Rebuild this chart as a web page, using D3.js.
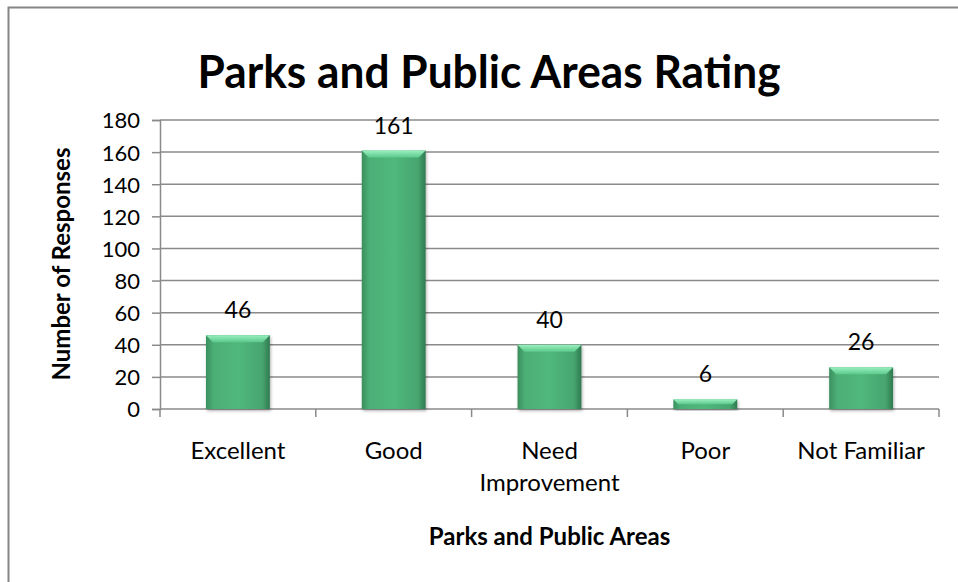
<!DOCTYPE html>
<html>
<head>
<meta charset="utf-8">
<script src="https://cdn.jsdelivr.net/npm/d3@7"></script>
<style>
  body { margin: 0; background: #fff; }
  svg { display: block; font-family: Lato, "Open Sans", sans-serif; }
</style>
</head>
<body>
<div id="chart"></div>
<script>
// chart data
var categories = ["Excellent", "Good", "Need Improvement", "Poor", "Not Familiar"];
var responses = [46, 161, 40, 6, 26];
var yTicks = [0, 20, 40, 60, 80, 100, 120, 140, 160, 180];

var svgWidth = 958;
var svgHeight = 582;

var margin = { top: 120, right: 19, bottom: 173, left: 160 };
var width = svgWidth - margin.left - margin.right;
var height = svgHeight - margin.top - margin.bottom;

var svg = d3.select("#chart")
    .append("svg")
    .attr("width", svgWidth)
    .attr("height", svgHeight);

// gradients for the bevelled bars
var defs = svg.append("defs");
var body = defs.append("linearGradient").attr("id", "barBody")
    .attr("x1", "0").attr("x2", "1").attr("y1", "0").attr("y2", "0");
body.append("stop").attr("offset", "0%").attr("stop-color", "#3a8f5e");
body.append("stop").attr("offset", "12%").attr("stop-color", "#4caf76");
body.append("stop").attr("offset", "50%").attr("stop-color", "#50b87c");
body.append("stop").attr("offset", "88%").attr("stop-color", "#47a56f");
body.append("stop").attr("offset", "100%").attr("stop-color", "#2f7a4f");

var topGrad = defs.append("linearGradient").attr("id", "barTop")
    .attr("x1", "0").attr("x2", "0").attr("y1", "0").attr("y2", "1");
topGrad.append("stop").attr("offset", "0%").attr("stop-color", "#9af0bf");
topGrad.append("stop").attr("offset", "100%").attr("stop-color", "#5cc98c");

var shadow = defs.append("filter").attr("id", "shadow")
    .attr("x", "-20%").attr("y", "-20%").attr("width", "140%").attr("height", "140%");
shadow.append("feDropShadow").attr("dx", 1).attr("dy", 2).attr("stdDeviation", 1.5)
    .attr("flood-color", "#000").attr("flood-opacity", 0.3);

// outer chart frame (right and bottom edges run off the picture)
svg.append("rect")
    .attr("x", 8.5).attr("y", 7.5)
    .attr("width", 1000).attr("height", 700)
    .attr("fill", "none")
    .attr("stroke", "#868686")
    .attr("stroke-width", 2);

var chartGroup = svg.append("g")
    .attr("transform", `translate(${margin.left}, ${margin.top})`);

var xScale = d3.scaleBand()
    .domain(categories)
    .range([0, width])
    .paddingInner(0.59)
    .paddingOuter(0.295);

var yScale = d3.scaleLinear()
    .domain([0, 180])
    .range([height, 0]);

// gridlines
chartGroup.append("g")
    .selectAll("line")
    .data(yTicks.slice(1))
    .enter()
    .append("line")
    .attr("x1", 0)
    .attr("x2", width)
    .attr("y1", d => yScale(d))
    .attr("y2", d => yScale(d))
    .attr("stroke", "#8a8a8a")
    .attr("stroke-width", 1.5);

// y axis
var leftAxis = d3.axisLeft(yScale).tickValues(yTicks).tickSize(8).tickPadding(12);
var yAxis = chartGroup.append("g").call(leftAxis);
yAxis.select(".domain").attr("stroke", "#8a8a8a").attr("stroke-width", 1.5);
yAxis.selectAll(".tick line").attr("stroke", "#8a8a8a").attr("stroke-width", 1.5);
yAxis.selectAll(".tick text")
    .attr("font-size", 22)
    .attr("font-family", "Lato, sans-serif")
    .attr("fill", "#000")
    .attr("dy", "0.36em");

// x axis: ticks sit on the category boundaries
var bottomAxis = chartGroup.append("g")
    .attr("transform", `translate(0, ${height})`);
bottomAxis.append("line")
    .attr("x1", 0).attr("x2", width)
    .attr("stroke", "#8a8a8a").attr("stroke-width", 1.5);
var step = xScale.step();
bottomAxis.selectAll(".xtick")
    .data(d3.range(categories.length + 1))
    .enter()
    .append("line")
    .attr("class", "xtick")
    .attr("x1", d => d * step).attr("x2", d => d * step)
    .attr("y1", 0).attr("y2", 8)
    .attr("stroke", "#8a8a8a").attr("stroke-width", 1.5);

// category labels (wrapped like the original)
var catLabels = bottomAxis.selectAll(".cat")
    .data(categories)
    .enter()
    .append("text")
    .attr("class", "cat")
    .attr("text-anchor", "middle")
    .attr("font-size", 24)
    .attr("fill", "#000")
    .attr("transform", d => `translate(${xScale(d) + xScale.bandwidth() / 2}, 50)`);
catLabels.each(function(d) {
    var lines = d === "Need Improvement" ? ["Need", "Improvement"] : [d];
    d3.select(this).selectAll("tspan")
        .data(lines)
        .enter()
        .append("tspan")
        .attr("x", 0)
        .attr("dy", (l, i) => i === 0 ? 0 : 32)
        .text(l => l);
});

// bars
var bars = chartGroup.selectAll(".bar")
    .data(responses)
    .enter()
    .append("g")
    .attr("class", "bar")
    .attr("filter", "url(#shadow)");

bars.append("rect")
    .attr("x", (d, i) => xScale(categories[i]))
    .attr("y", d => yScale(d))
    .attr("width", xScale.bandwidth())
    .attr("height", d => height - yScale(d))
    .attr("fill", "url(#barBody)");

// bevel on top of each bar
bars.append("path")
    .attr("d", function(d, i) {
        var x0 = xScale(categories[i]);
        var x1 = x0 + xScale.bandwidth();
        var y0 = yScale(d);
        var b = Math.min(7, (height - y0) / 2);
        return `M${x0},${y0}L${x1},${y0}L${x1 - b},${y0 + b}L${x0 + b},${y0 + b}Z`;
    })
    .attr("fill", "url(#barTop)");

// value labels
chartGroup.selectAll(".value")
    .data(responses)
    .enter()
    .append("text")
    .attr("class", "value")
    .attr("text-anchor", "middle")
    .attr("x", (d, i) => xScale(categories[i]) + xScale.bandwidth() / 2)
    .attr("y", d => yScale(d) - 17)
    .attr("font-size", 23)
    .attr("fill", "#000")
    .text(d => d);

// titles
svg.append("text")
    .attr("x", 489)
    .attr("y", 88)
    .attr("text-anchor", "middle")
    .attr("font-size", 46)
    .attr("font-weight", "bold")
    .attr("textLength", 583)
    .attr("lengthAdjust", "spacingAndGlyphs")
    .text("Parks and Public Areas Rating");

svg.append("text")
    .attr("transform", `translate(${margin.left + width / 2}, 545)`)
    .attr("text-anchor", "middle")
    .attr("font-size", 24)
    .attr("font-weight", "bold")
    .text("Parks and Public Areas");

svg.append("text")
    .attr("transform", "translate(70, 264) rotate(-90)")
    .attr("text-anchor", "middle")
    .attr("font-size", 24)
    .attr("font-weight", "bold")
    .text("Number of Responses");
</script>
</body>
</html>
